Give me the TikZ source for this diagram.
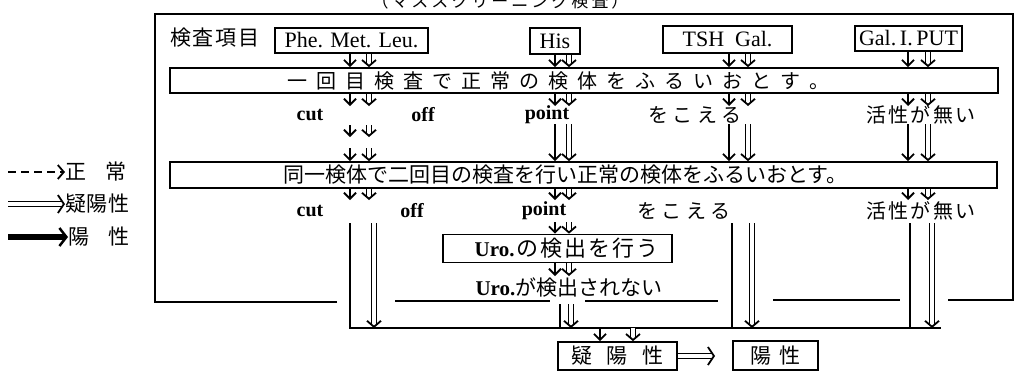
\documentclass[tikz,border=0pt]{standalone}
\usepackage{fontspec}
\setmainfont{Liberation Serif}
\newfontfamily\jp{Noto Sans CJK JP}
\usetikzlibrary{arrows.meta,calc}
\makeatletter
\newcommand\spacedtext[2]{\def\sp@gap{\hspace{#1}}\@tfor\sp@c:=#2\do{\sp@c\sp@gap}\unskip}
\makeatother
% double-line arrow: double stem plus an open V head
\newcommand\dblarrow[3][14]{%
  \draw[dline] (#2) -- (#3);
  \draw[line width=1.8bp,-{Straight Barb[length=6bp,width=#1bp]}] ($(#3)!1.5bp!(#2)$) -- (#3);}
\begin{document}
\begin{tikzpicture}[x=1bp,y=-1bp,
  bx/.style={draw,line width=1.7bp,inner sep=0pt,rectangle},
  jt/.style={font=\jp\fontsize{#1bp}{#1bp}\selectfont,inner sep=0pt},
  lt/.style={font=\fontsize{22bp}{22bp}\selectfont},
  bt/.style={font=\bfseries\fontsize{20bp}{20bp}\selectfont,inner sep=0pt},
  sarr/.style={line width=1.8bp,-{Straight Barb[length=6bp,width=12bp]}},
  dline/.style={double,double distance=3.2bp,line width=1.4bp,shorten >=3.5bp},
  pline/.style={line width=1.7bp},
  frm/.style={line width=1.8bp},
]
\useasboundingbox (0,0) rectangle (1015,372);
% title (cut off at top, as in the reference)
\node[jt=17,anchor=base] (title) at (500,7) {\spacedtext{3bp}{（マススクリーニング検査）}};
% frame
\draw[frm] (337,302) -| (155,14) -| (1013,300) -- (948,300);
\draw[frm] (395,301) -- (550,301);
\draw[frm] (585,301) -- (718,301);
\draw[frm] (773,300) -- (900,300);
% top row
\node[jt=21] (kensa) at (215,38) {\spacedtext{2bp}{検査項目}};
\node[bx,lt,minimum width=153bp,minimum height=25bp] (phe) at (351.5,40.5) {Phe. Met. Leu.};
\node[bx,lt,minimum width=50bp,minimum height=26bp] (his) at (555,41) {His};
\node[bx,lt,minimum width=129bp,minimum height=27bp] (tsh) at (727.5,39.5) {TSH\ \ Gal.};
\node[bx,lt,minimum width=107bp,minimum height=25bp] (gal) at (908.5,38.5) {Gal.\,I.\,PUT};
% box 1
\node[bx,minimum width=828bp,minimum height=25bp] (box1) at (584,80.5) {};
\node[jt=20,anchor=west] (t1) at (287,80.5) {\spacedtext{9bp}{一回目検査で正常の検体をふるいおとす。}};
% columns
\coordinate (cS) at (350,0); \coordinate (cD) at (369,0);
\coordinate (pS) at (555,0); \coordinate (pD) at (569,0);
\coordinate (tS) at (729,0); \coordinate (tD) at (748,0);
\coordinate (gS) at (908,0); \coordinate (gD) at (928,0);
% arrows top boxes -> box1
\foreach \b/\s/\d in {phe/cS/cD,his/pS/pD,tsh/tS/tD,gal/gS/gD}{
  \draw[sarr] (\b.south -| \s) -- (box1.north -| \s);
  \dblarrow{\b.south -| \d}{box1.north -| \d}
}
% arrows below box1
\foreach \s/\d in {cS/cD,pS/pD,tS/tD,gS/gD}{
  \coordinate (e\s) at (\s |- 0,106);
  \coordinate (e\d) at (\d |- 0,106);
  \draw[sarr] (box1.south -| \s) -- (e\s);
  \dblarrow{box1.south -| \d}{e\d}
}
% row 1 texts
\node[bt] (cut1) at (310,115) {cut};
\node[bt] (off1) at (423,115) {off};
\node[bt] (point1) at (547,115) {point};
\node[jt=20] (koeru1) at (695,115) {\spacedtext{4.5bp}{をこえる}};
\node[jt=20] (kasse1) at (921,115) {\spacedtext{2.5bp}{活性が無い}};
% box 2
\node[bx,minimum width=827bp,minimum height=26bp] (box2) at (583.5,175) {};
\node[jt=21,anchor=west] (t2) at (283,175) {同一検体で二回目の検査を行い正常の検体をふるいおとす。};
% cut column short arrows
\coordinate (a1s) at (350,125); \coordinate (a1e) at (350,137);
\coordinate (a2s) at (369,125); \coordinate (a2e) at (369,137);
\draw[sarr] (a1s) -- (a1e);
\dblarrow{a2s}{a2e}
\coordinate (b1s) at (350,148); \coordinate (b2s) at (369,148);
\draw[sarr] (b1s) -- (box2.north -| b1s);
\dblarrow{b2s}{box2.north -| b2s}
% other columns long arrows
\foreach \s/\d in {pS/pD,tS/tD,gS/gD}{
  \coordinate (f\s) at (\s |- 0,124);
  \coordinate (f\d) at (\d |- 0,124);
  \draw[sarr] (f\s) -- (box2.north -| f\s);
  \dblarrow{f\d}{box2.north -| f\d}
}
% below box2
\foreach \s/\d in {cS/cD,pS/pD,gS/gD}{
  \coordinate (g\s) at (\s |- 0,200);
  \coordinate (g\d) at (\d |- 0,200);
  \draw[sarr] (box2.south -| \s) -- (g\s);
  \dblarrow{box2.south -| \d}{g\d}
}
% row 2 texts
\node[bt] (cut2) at (310,211) {cut};
\node[bt] (off2) at (412,211) {off};
\node[bt] (point2) at (544,211) {point};
\node[jt=20] (koeru2) at (684,211) {\spacedtext{4.5bp}{をこえる}};
\node[jt=20] (kasse2) at (921,211) {\spacedtext{2.5bp}{活性が無い}};
% Uro
\node[bx,minimum width=229bp,minimum height=28bp] (uro) at (557.5,248.5) {\hspace*{18bp}\textbf{\fontsize{21bp}{21bp}\selectfont Uro.}\,{\jp\fontsize{22bp}{22bp}\selectfont\spacedtext{2bp}{の検出を行う}}};
\coordinate (u1) at (555,222); \coordinate (u2) at (569,222);
\draw[sarr] (u1) -- (uro.north -| u1);
\dblarrow{u2}{uro.north -| u2}
\coordinate (v1) at (555,276); \coordinate (v2) at (569,276);
\draw[sarr] (uro.south -| v1) -- (v1);
\dblarrow{uro.south -| v2}{v2}
\node[inner sep=0pt] (uro2) at (569,288) {\textbf{\fontsize{21bp}{21bp}\selectfont Uro.}{\jp\fontsize{21bp}{21bp}\selectfont が検出されない}};
% bottom collector and lines
\coordinate (k1) at (350,223); \coordinate (kend) at (941,328);
\draw[pline] (k1) |- (kend);
\coordinate (k2) at (374,223); \coordinate (k2e) at (374,328);
\dblarrow{k2}{k2e}
\coordinate (m1) at (560,304); \coordinate (m1e) at (560,328);
\draw[pline] (m1) -- (m1e);
\coordinate (m2) at (571,304); \coordinate (m2e) at (571,328);
\dblarrow{m2}{m2e}
\coordinate (n1) at (732,223); \coordinate (n1e) at (732,328);
\draw[pline] (n1) -- (n1e);
\coordinate (n2) at (752,223); \coordinate (n2e) at (752,328);
\dblarrow{n2}{n2e}
\coordinate (q1) at (910,223); \coordinate (q1e) at (910,328);
\draw[pline] (q1) -- (q1e);
\coordinate (q2) at (932,223); \coordinate (q2e) at (932,328);
\dblarrow{q2}{q2e}
% result boxes
\node[bx,minimum width=119bp,minimum height=28bp,jt=21] (giyo) at (617.5,356) {\spacedtext{15bp}{疑陽性}};
\node[bx,minimum width=85bp,minimum height=29bp,jt=21] (yosei) at (775.5,355.5) {\spacedtext{9bp}{陽性}};
\coordinate (r1) at (600,328); \coordinate (r2) at (633,328);
\draw[sarr] (r1) -- (giyo.north -| r1);
\dblarrow{r2}{giyo.north -| r2}
\coordinate (ye) at (715,356);
\dblarrow[18]{giyo.east}{ye}
% legend
\node[jt=21,anchor=west] (lg1) at (65,172) {\spacedtext{19bp}{正常}};
\node[jt=21,anchor=west] (lg2) at (65,204) {\spacedtext{0.5bp}{疑陽性}};
\node[jt=21,anchor=west] (lg3) at (68,237) {\spacedtext{19bp}{陽性}};
\coordinate (l1) at (8,172); \coordinate (l2) at (8,204); \coordinate (l3) at (8,237);
\draw[line width=1.8bp,dash pattern=on 8bp off 5bp,-{Straight Barb[length=6bp,width=14bp]}] (l1) -- (lg1.west);
\dblarrow[18]{l2}{lg2.west}
\draw[line width=6bp,-{Straight Barb[length=7bp,width=18bp,line width=2.5bp]}] (l3) -- (lg3.west);
\end{tikzpicture}
\end{document}
